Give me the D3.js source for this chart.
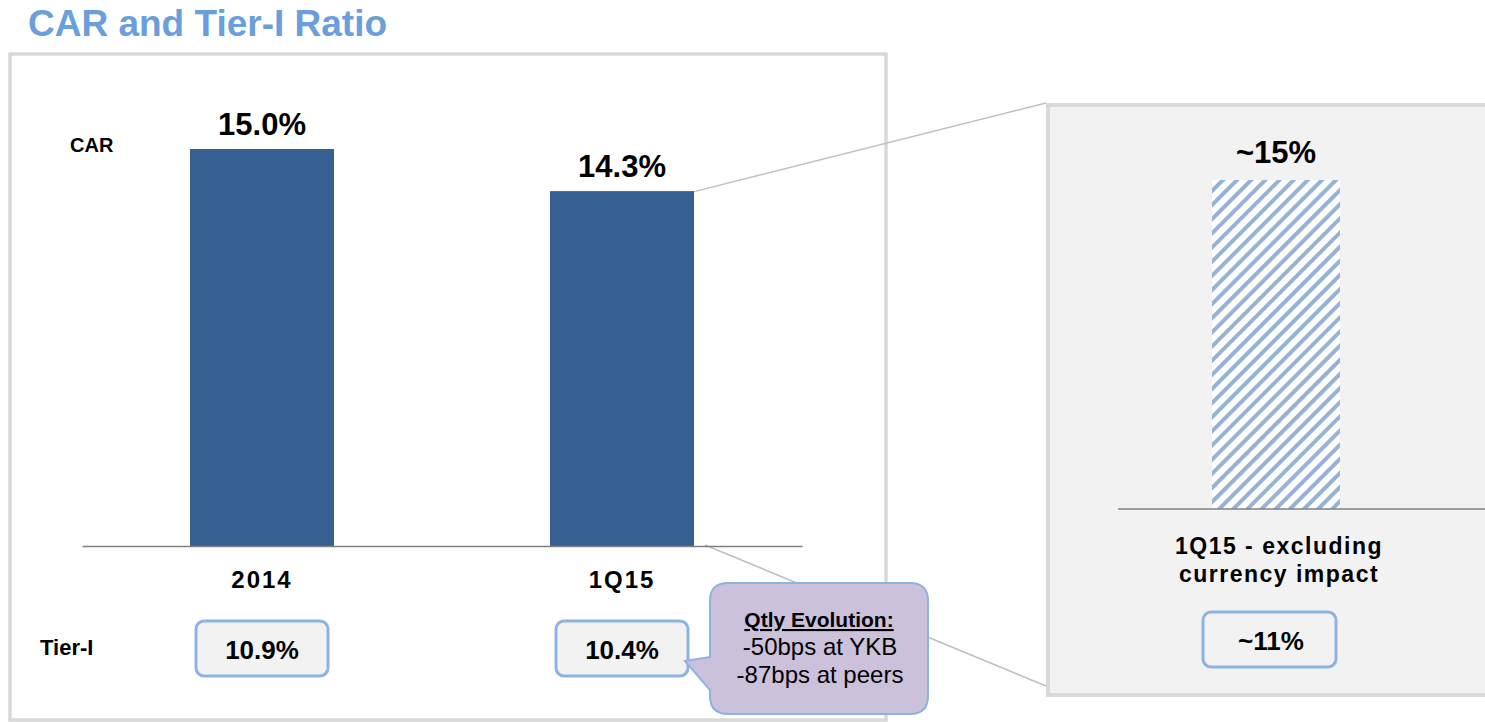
<!DOCTYPE html>
<html><head><meta charset="utf-8">
<script src="https://cdn.jsdelivr.net/npm/d3@7"></script>
<style>
html,body{margin:0;padding:0;background:#fff;}
svg{display:block;font-family:Arial,"Liberation Sans",sans-serif;}
</style></head>
<body>
<svg id="chart" width="1485" height="722"></svg>
<script>
// ---- data ----
const categories = ["2014", "1Q15"];
const carValues = [15.0, 14.3];
const carLabels = ["15.0%", "14.3%"];
const tier1Labels = ["10.9%", "10.4%"];
const exCategory = ["1Q15 - excluding currency impact"];
const exCarValues = [15];
const exCarLabels = ["~15%"];
const exTier1Labels = ["~11%"];
const calloutLines = ["Qtly Evolution:", "-50bps at YKB", "-87bps at peers"];

const svg = d3.select("#chart");
const barColor = "#376092";
const boxStroke = "#8db3e2";

// title
svg.append("text").attr("x", 28).attr("y", 36)
  .attr("font-size", 37).attr("font-weight", "bold").attr("fill", "#6a9fdb")
  .text("CAR and Tier-I Ratio");

// panels
svg.append("rect").attr("x", 10).attr("y", 54).attr("width", 876).attr("height", 666)
  .attr("fill", "#fff").attr("stroke", "#d9d9d9").attr("stroke-width", 3.5);
svg.append("rect").attr("x", 1048).attr("y", 105).attr("width", 460).attr("height", 590)
  .attr("fill", "#f2f2f2").attr("stroke", "#d9d9d9").attr("stroke-width", 4);

// scales left
const x = d3.scaleBand().domain(categories).range([82, 802]).paddingInner(0.6).paddingOuter(0.3);
const y = d3.scaleLinear().domain([8.4, 15]).range([546, 149]);

// connector lines
const lastX = x("1Q15") + x.bandwidth();
svg.append("line").attr("x1", lastX - 2).attr("y1", y(carValues[1]) + 1)
  .attr("x2", 1046).attr("y2", 103).attr("stroke", "#bfbfbf").attr("stroke-width", 1.5);
svg.append("line").attr("x1", lastX + 11).attr("y1", 545)
  .attr("x2", 1046).attr("y2", 686).attr("stroke", "#bfbfbf").attr("stroke-width", 1.5);

// bars left
svg.selectAll(".bar").data(categories).enter().append("rect")
  .attr("x", d => x(d)).attr("width", x.bandwidth())
  .attr("y", (d, i) => y(carValues[i])).attr("height", (d, i) => y.range()[0] - y(carValues[i]))
  .attr("fill", barColor);

// axis left
const axisG = svg.append("g").attr("transform", "translate(0,546)")
  .call(d3.axisBottom(x).tickSize(0).tickPadding(25));
axisG.select(".domain").attr("stroke", "#808080").attr("stroke-width", 1.5);
axisG.selectAll("text").attr("font-size", 24).attr("font-weight", "bold").attr("fill", "#000")
  .attr("font-family", "Arial, 'Liberation Sans', sans-serif").attr("letter-spacing", 2);

// value labels
svg.selectAll(".vl").data(categories).enter().append("text")
  .attr("x", d => x(d) + x.bandwidth() / 2).attr("y", (d, i) => y(carValues[i]) - 14)
  .attr("text-anchor", "middle").attr("font-size", 31).attr("font-weight", "bold")
  .text((d, i) => carLabels[i]);

svg.append("text").attr("x", 70).attr("y", 152).attr("font-size", 20).attr("font-weight", "bold").text("CAR");
svg.append("text").attr("x", 40).attr("y", 655).attr("font-size", 22).attr("font-weight", "bold").text("Tier-I");

// tier-I boxes
const tb = svg.selectAll(".tb").data(categories).enter().append("g");
tb.append("rect").attr("x", d => x(d) + x.bandwidth() / 2 - 66).attr("y", 621)
  .attr("width", 132).attr("height", 55).attr("rx", 8)
  .attr("fill", "#f2f2f2").attr("stroke", boxStroke).attr("stroke-width", 3);
tb.append("text").attr("x", d => x(d) + x.bandwidth() / 2).attr("y", 659)
  .attr("text-anchor", "middle").attr("font-size", 26).attr("font-weight", "bold")
  .text((d, i) => tier1Labels[i]);

// right panel
const defs = svg.append("defs");
const pat = defs.append("pattern").attr("id", "hatch").attr("patternUnits", "userSpaceOnUse")
  .attr("width", 10).attr("height", 10).attr("patternTransform", "rotate(45)");
pat.append("rect").attr("width", 10).attr("height", 10).attr("fill", "#fff");
pat.append("rect").attr("x", 0).attr("width", 4).attr("height", 10).attr("fill", "#95b3d7");

const xr = d3.scaleBand().domain(exCategory).range([1116, 1436]).paddingOuter(0.75);
const yr = d3.scaleLinear().domain([0, 15]).range([509, 180]);

svg.selectAll(".rbar").data(exCategory).enter().append("rect")
  .attr("x", d => xr(d)).attr("width", xr.bandwidth())
  .attr("y", (d, i) => yr(exCarValues[i])).attr("height", (d, i) => 509 - yr(exCarValues[i]))
  .attr("fill", "url(#hatch)");

svg.append("line").attr("x1", 1118).attr("x2", 1485).attr("y1", 509).attr("y2", 509)
  .attr("stroke", "#808080").attr("stroke-width", 1.5);

svg.selectAll(".rvl").data(exCategory).enter().append("text")
  .attr("x", d => xr(d) + xr.bandwidth() / 2).attr("y", (d, i) => yr(exCarValues[i]) - 17)
  .attr("text-anchor", "middle").attr("font-size", 31).attr("font-weight", "bold")
  .text((d, i) => exCarLabels[i]);

const rl = svg.append("text").attr("text-anchor", "middle").attr("font-size", 23)
  .attr("font-weight", "bold").attr("letter-spacing", 1.5);
rl.append("tspan").attr("x", 1279).attr("y", 554).text("1Q15 - excluding");
rl.append("tspan").attr("x", 1279).attr("y", 582).text("currency impact");

svg.append("rect").attr("x", 1203).attr("y", 612).attr("width", 133).attr("height", 55).attr("rx", 8)
  .attr("fill", "#f2f2f2").attr("stroke", boxStroke).attr("stroke-width", 3);
svg.append("text").attr("x", 1271).attr("y", 650).attr("text-anchor", "middle")
  .attr("font-size", 26).attr("font-weight", "bold").text(exTier1Labels[0]);

// callout
const L = 710, T = 583, R = 928, B = 714, r = 18;
const path = `M${L + r},${T} H${R - r} Q${R},${T} ${R},${T + r} V${B - r} Q${R},${B} ${R - r},${B} H${L + r} Q${L},${B} ${L},${B - r} V690 L685,661 L${L},657 V${T + r} Q${L},${T} ${L + r},${T} Z`;
svg.append("path").attr("d", path).attr("fill", "#ccc1da").attr("stroke", boxStroke).attr("stroke-width", 2);
const ct = svg.append("text").attr("text-anchor", "middle").attr("fill", "#000");
ct.append("tspan").attr("x", 819).attr("y", 627).attr("font-size", 21).attr("font-weight", "bold")
  .attr("text-decoration", "underline").text(calloutLines[0]);
ct.append("tspan").attr("x", 820).attr("y", 655).attr("font-size", 24).text(calloutLines[1]);
ct.append("tspan").attr("x", 820).attr("y", 683).attr("font-size", 24).text(calloutLines[2]);
</script>
</body></html>
